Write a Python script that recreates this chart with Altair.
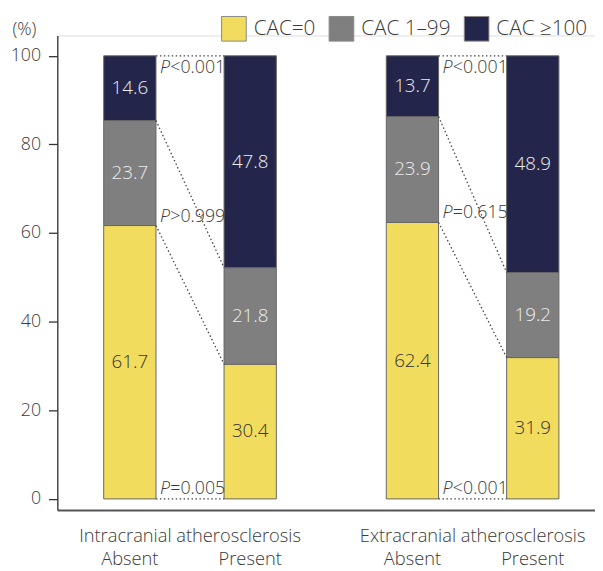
import altair as alt
import pandas as pd

# ---------------- data ----------------
groups = ["Intracranial atherosclerosis", "Extracranial atherosclerosis"]
statuses = ["Absent", "Present"]
cac_levels = ["CAC=0", "CAC 1–99", "CAC ≥100"]
intra_absent = [61.7, 23.7, 14.6]
intra_present = [30.4, 21.8, 47.8]
extra_absent = [62.4, 23.9, 13.7]
extra_present = [31.9, 19.2, 48.9]
p_top = ["<0.001", "<0.001"]
p_mid = [">0.999", "=0.615"]
p_bottom = ["=0.005", "<0.001"]

# ---------------- layout / style ----------------
FONT = "Open Sans"
FW = 300
TXT = "#3a3a3a"
COLORS = ["#F2DC5E", "#7F7F7F", "#23254A"]
VALUE_TEXT = ["#333333", "#EDEDED", "#EDEDED"]
GROUP_STEP = 2.348          # slot distance between groups
HALF_W = 26.5 / 122         # half bar width in slot units
X_DOMAIN = [0.3975, 4.865]
Y_DOMAIN = [-2.5, 104.6]
W, H = 545, 481

values = [[intra_absent, intra_present], [extra_absent, extra_present]]

seg_rows, rule_rows, p_rows, lab_rows = [], [], [], []
for g, gname in enumerate(groups):
    centers = []
    cums = []
    for s, sname in enumerate(statuses):
        xc = 1 + g * GROUP_STEP + s
        centers.append(xc)
        vals = values[g][s]
        cum = [0.0]
        for k, v in enumerate(vals):
            y0 = cum[-1]
            y1 = y0 + v
            cum.append(y1)
            seg_rows.append(dict(x0=xc - HALF_W, x1=xc + HALF_W, xc=xc, y0=y0, y1=y1,
                                 ym=(y0 + y1) / 2, cac=cac_levels[k],
                                 label=f"{v:.1f}", tc=VALUE_TEXT[k]))
        cums.append(cum)
        lab_rows.append(dict(x=xc, text=sname, kind="status"))
    lab_rows.append(dict(x=sum(centers) / 2, text=gname, kind="group"))
    a_cum, p_cum = cums
    for k in range(len(a_cum)):
        rule_rows.append(dict(x=centers[0] + HALF_W, x2=centers[1] - HALF_W,
                              y=min(a_cum[k], 100), y2=min(p_cum[k], 100)))
    xe = centers[0] + HALF_W
    p_rows.append(dict(x=xe, y=100, rest=p_top[g], pos="top"))
    p_rows.append(dict(x=xe, y=a_cum[1], rest=p_mid[g], pos="mid"))
    p_rows.append(dict(x=xe, y=0, rest=p_bottom[g], pos="bottom"))

seg = pd.DataFrame(seg_rows)
rules = pd.DataFrame(rule_rows)
pdf = pd.DataFrame(p_rows)
labs = pd.DataFrame(lab_rows)

xs = alt.Scale(domain=X_DOMAIN, nice=False, zero=False)
ys = alt.Scale(domain=Y_DOMAIN, nice=False, zero=False)

x_axis = alt.Axis(labels=False, ticks=False, grid=False, title=None,
                  domainColor="#555555", domainWidth=2)
y_axis = alt.Axis(values=[0, 20, 40, 60, 80, 100], grid=False, tickSize=9,
                  tickColor="#333333", domainColor="#333333", domainWidth=1.3,
                  tickWidth=1.3, labelFontSize=18, labelFont=FONT, labelFontWeight=FW,
                  labelColor=TXT, labelPadding=8, title="(%)", titleAngle=0,
                  titleAlign="left", titleBaseline="alphabetic", titleX=-46, titleY=-1,
                  titleFontSize=18, titleFont=FONT, titleFontWeight=FW,
                  titleColor=TXT)

bars = alt.Chart(seg).mark_bar(stroke="#666666", strokeWidth=1).encode(
    x=alt.X("x0:Q", scale=xs, axis=x_axis),
    x2="x1:Q",
    y=alt.Y("y0:Q", scale=ys, axis=y_axis),
    y2="y1:Q",
    color=alt.Color("cac:N", sort=cac_levels,
                    scale=alt.Scale(domain=cac_levels, range=COLORS),
                    legend=alt.Legend(orient="none", legendX=166, legendY=-20,
                                      direction="horizontal", title=None,
                                      symbolType="square", symbolSize=625,
                                      symbolStrokeColor="#888888", symbolStrokeWidth=1,
                                      symbolOpacity=1, labelFontSize=21, labelFont=FONT,
                                      labelFontWeight=FW,
                                      labelColor=TXT, columnPadding=11, labelOffset=7,
                                      padding=0)),
)

vals_txt = alt.Chart(seg).mark_text(fontSize=19, font=FONT, fontWeight=FW).encode(
    x=alt.X("xc:Q", scale=xs),
    y=alt.Y("ym:Q", scale=ys),
    text="label:N",
    color=alt.Color("tc:N", scale=None),
)

conn = alt.Chart(rules).mark_rule(strokeDash=[1.5, 2.5], color="#444444", strokeWidth=1.3).encode(
    x=alt.X("x:Q", scale=xs), x2="x2:Q",
    y=alt.Y("y:Q", scale=ys), y2="y2:Q",
)

p_layers = []
for pos, dy in [("top", 17), ("mid", -4), ("bottom", -5)]:
    sub = pdf[pdf["pos"] == pos]
    base = alt.Chart(sub).encode(x=alt.X("x:Q", scale=xs), y=alt.Y("y:Q", scale=ys))
    p_layers.append(base.mark_text(align="left", baseline="alphabetic", dx=4, dy=dy,
                                   fontSize=18, font=FONT, fontWeight=FW,
                                   fontStyle="italic", color=TXT, text="P"))
    p_layers.append(base.mark_text(align="left", baseline="alphabetic", dx=14.5, dy=dy,
                                   fontSize=18, font=FONT, fontWeight=FW,
                                   color=TXT).encode(text="rest:N"))

grp_lab = alt.Chart(labs[labs["kind"] == "group"]).mark_text(
    fontSize=18.5, font=FONT, fontWeight=FW, color=TXT, baseline="alphabetic", dy=32).encode(
    x=alt.X("x:Q", scale=xs), y=alt.datum(Y_DOMAIN[0], scale=ys), text="text:N")
st_lab = alt.Chart(labs[labs["kind"] == "status"]).mark_text(
    fontSize=18.5, font=FONT, fontWeight=FW, color=TXT, baseline="alphabetic", dy=56).encode(
    x=alt.X("x:Q", scale=xs), y=alt.datum(Y_DOMAIN[0], scale=ys), text="text:N")

chart = alt.layer(bars, conn, vals_txt, *p_layers, grp_lab, st_lab).properties(
    width=W, height=H,
    autosize=alt.AutoSizeParams(type="none"),
    padding={"left": 50, "top": 24, "right": 0, "bottom": 58},
).configure_view(stroke=None).configure(font=FONT)

chart.save("out.html", embed_options={"renderer": "svg", "actions": False})
